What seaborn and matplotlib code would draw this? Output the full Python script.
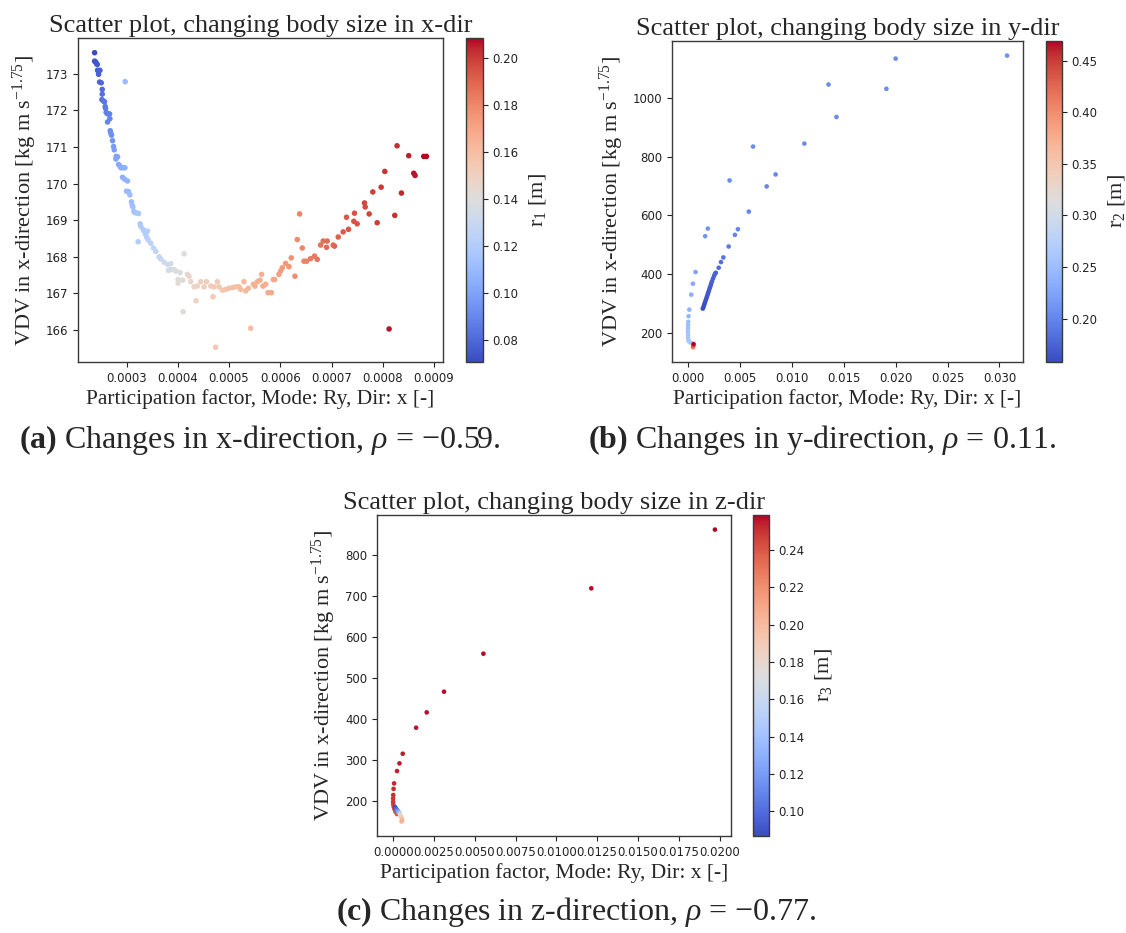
import numpy as np
import matplotlib
matplotlib.use("Agg")
import matplotlib.pyplot as plt
import seaborn as sns
from matplotlib.ticker import MultipleLocator
from matplotlib.colors import Normalize
from matplotlib.cm import ScalarMappable

# ---------------- data ----------------
# (a) body size changed in x-direction
pf_a = np.array([
    2.377, 2.377, 2.396, 2.416, 2.429, 2.435, 2.455, 2.481, 2.455, 2.474,
    2.506, 2.526, 2.526, 2.519, 2.552, 2.571, 2.584, 2.591, 2.604, 2.630,
    2.669, 2.675, 2.630, 2.682, 2.695, 2.708, 2.727, 2.747, 2.760, 2.799,
    2.825, 2.792, 2.844, 2.870, 2.890, 2.929, 2.968, 2.922, 2.961, 3.019,
    3.000, 3.039, 3.065, 3.097, 3.110, 3.123, 3.143, 3.162, 3.188, 3.234,
    2.974, 3.266, 3.279, 3.325, 3.344, 3.409, 3.370, 3.396, 3.422, 3.227,
    3.474, 3.526, 3.571, 3.636, 3.669, 3.734, 3.799, 3.864, 3.818, 3.864,
    3.929, 3.961, 4.045, 4.006, 4.006, 4.097, 4.123, 4.188, 4.221, 4.104,
    4.357, 4.253, 4.318, 4.383, 4.448, 4.513, 4.558, 4.643, 4.708, 4.688,
    4.773, 4.805, 4.740, 4.870, 4.935, 5.000, 5.065, 5.130, 5.195, 5.227,
    5.292, 5.325, 5.377, 5.422, 5.474, 5.506, 5.552, 5.604, 5.636, 5.662,
    5.714, 5.760, 5.825, 5.864, 5.890, 5.974, 6.006, 6.039, 6.104, 6.169,
    6.214, 6.286, 6.331, 6.377, 6.429, 6.461, 6.513, 6.591, 6.669, 6.721,
    6.786, 6.838, 6.916, 6.903, 7.032, 7.058, 7.130, 7.227, 7.292, 7.331,
    7.435, 7.448, 7.500, 7.643, 7.656, 7.734, 7.805, 7.890, 7.968, 8.039,
    8.123, 8.234, 8.279, 8.364, 8.506, 8.604, 8.630, 8.799, 8.851,
]) * 1e-4
vdv_a = np.array([
    173.57, 173.34, 173.32, 173.27, 173.25, 173.09, 173.06, 173.09, 172.98, 172.77,
    172.75, 172.57, 172.44, 172.29, 172.25, 172.23, 172.10, 172.05, 171.94, 171.90,
    171.90, 171.77, 171.68, 171.44, 171.37, 171.32, 171.17, 171.01, 170.92, 170.74,
    170.73, 170.67, 170.52, 170.48, 170.43, 170.43, 170.43, 170.17, 170.12, 170.07,
    169.79, 169.78, 169.69, 169.50, 169.41, 169.36, 169.24, 169.21, 169.20, 169.18,
    172.78, 168.90, 168.83, 168.74, 168.70, 168.70, 168.61, 168.53, 168.46, 168.41,
    168.37, 168.24, 168.15, 168.00, 167.94, 167.85, 167.79, 167.81, 167.63, 167.65,
    167.65, 167.61, 167.57, 167.38, 167.28, 167.36, 168.08, 167.52, 167.47, 166.50,
    166.80, 167.32, 167.18, 167.20, 167.32, 167.18, 167.32, 167.20, 167.18, 166.91,
    167.32, 167.18, 165.53, 167.09, 167.11, 167.14, 167.16, 167.18, 167.18, 167.11,
    167.32, 167.07, 167.14, 166.05, 167.25, 167.20, 167.32, 167.36, 167.52, 167.20,
    167.25, 167.02, 167.02, 167.38, 167.38, 167.52, 167.61, 167.70, 167.82, 167.73,
    167.97, 167.47, 168.47, 169.17, 168.24, 167.88, 167.88, 167.95, 168.02, 167.93,
    168.32, 168.43, 168.43, 168.26, 168.32, 168.29, 168.54, 168.68, 169.08, 168.75,
    168.97, 169.19, 168.90, 169.47, 169.36, 169.17, 169.77, 168.93, 169.90, 170.33,
    166.03, 169.13, 171.03, 169.74, 170.76, 170.28, 170.22, 170.74, 170.74,
])
r1_a = np.array([
    0.0705, 0.073, 0.074, 0.074, 0.075, 0.076, 0.076, 0.077, 0.077, 0.079,
    0.079, 0.081, 0.082, 0.083, 0.083, 0.084, 0.085, 0.086, 0.087, 0.087,
    0.088, 0.089, 0.089, 0.092, 0.093, 0.093, 0.095, 0.097, 0.098, 0.100,
    0.100, 0.101, 0.103, 0.103, 0.104, 0.104, 0.105, 0.106, 0.107, 0.107,
    0.109, 0.110, 0.111, 0.112, 0.113, 0.113, 0.114, 0.115, 0.115, 0.116,
    0.110, 0.118, 0.118, 0.119, 0.120, 0.121, 0.121, 0.122, 0.123, 0.120,
    0.124, 0.125, 0.126, 0.128, 0.129, 0.131, 0.133, 0.134, 0.134, 0.135,
    0.137, 0.138, 0.140, 0.141, 0.142, 0.143, 0.140, 0.145, 0.146, 0.142,
    0.148, 0.147, 0.148, 0.149, 0.150, 0.151, 0.151, 0.152, 0.153, 0.153,
    0.154, 0.155, 0.155, 0.156, 0.157, 0.158, 0.159, 0.159, 0.160, 0.161,
    0.162, 0.162, 0.163, 0.160, 0.164, 0.165, 0.165, 0.166, 0.166, 0.167,
    0.167, 0.168, 0.169, 0.169, 0.170, 0.172, 0.173, 0.174, 0.175, 0.176,
    0.177, 0.178, 0.179, 0.181, 0.180, 0.181, 0.182, 0.183, 0.184, 0.185,
    0.186, 0.187, 0.188, 0.188, 0.189, 0.190, 0.191, 0.192, 0.193, 0.193,
    0.194, 0.195, 0.195, 0.197, 0.197, 0.198, 0.199, 0.199, 0.200, 0.201,
    0.206, 0.202, 0.203, 0.204, 0.205, 0.206, 0.206, 0.208, 0.2085,
])

# (b) body size changed in y-direction
pf_b = np.array([
    # dense chain
    0.00143, 0.00150, 0.00156, 0.00162, 0.00169, 0.00175, 0.00182, 0.00188,
    0.00194, 0.00201, 0.00207, 0.00213, 0.00220, 0.00226, 0.00232, 0.00242,
    0.00252, 0.00261, 0.00268, 0.00296, 0.00318, 0.00341, 0.00392,
    # near-zero branch
    0.00073, 0.00048, 0.00032, 0.00013, 0.00006, 0.00003, 0.00001, 0.00000,
    0.00000, 0.00001, 0.00002, 0.00006, 0.00016, 0.00029,
    # spread-out points
    0.00166, 0.00191, 0.00401, 0.00452, 0.00481, 0.00586, 0.00627, 0.00758,
    0.00844, 0.01121, 0.01354, 0.01430, 0.01911, 0.02000, 0.03073,
    # largest sizes
    0.00048, 0.00052, 0.00054,
])
vdv_b = np.array([
    282.5, 288.0, 295.0, 301.7, 308.5, 315.0, 322.0, 328.8,
    335.6, 342.4, 349.2, 356.0, 362.7, 369.5, 376.3, 385.3,
    394.4, 401.1, 404.5, 421.5, 440.7, 456.5, 493.8,
    406.8, 367.2, 330.0, 279.0, 256.5, 237.3, 226.0, 214.7,
    203.4, 192.0, 180.8, 172.9, 168.4, 166.1,
    528.8, 554.8, 718.6, 533.3, 552.5, 612.4, 833.9, 698.3,
    739.0, 844.1, 1045.2, 934.5, 1030.5, 1133.3, 1143.5,
    150.3, 155.5, 161.6,
])
r2_b = np.array([
    0.158, 0.160, 0.161, 0.162, 0.163, 0.164, 0.165, 0.166,
    0.167, 0.168, 0.169, 0.170, 0.171, 0.172, 0.173, 0.174,
    0.175, 0.176, 0.177, 0.180, 0.183, 0.186, 0.192,
    0.225, 0.230, 0.235, 0.240, 0.245, 0.248, 0.250, 0.252,
    0.254, 0.256, 0.258, 0.260, 0.262, 0.265,
    0.212, 0.212, 0.205, 0.200, 0.200, 0.200, 0.205, 0.200,
    0.200, 0.205, 0.205, 0.205, 0.205, 0.205, 0.210,
    0.400, 0.430, 0.469,
])

# (c) body size changed in z-direction
pf_c = np.array([
    0.01971, 0.01214, 0.00553, 0.00312, 0.00206, 0.00141, 0.00059, 0.00039,
    0.00024, 0.00006, 0.00003, 0.00001, 0.00000, 0.00000, 0.00001, 0.00004,
    0.00008, 0.00014, 0.00024,
    0.00012, 0.00016, 0.00020, 0.00024, 0.00028, 0.00031, 0.00035, 0.00039,
    0.00043, 0.00047, 0.00051, 0.00054, 0.00055, 0.00052,
])
vdv_c = np.array([
    862.0, 718.6, 559.0, 466.2, 415.7, 378.3, 314.8, 291.2,
    272.4, 242.3, 229.0, 214.0, 205.7, 197.5, 191.0, 185.3,
    179.6, 173.1, 167.4,
    184.5, 182.0, 179.5, 177.2, 175.0, 173.1, 171.5, 170.2,
    166.5, 163.0, 159.3, 155.5, 152.0, 149.5,
])
r3_c = np.array([
    0.2588, 0.258, 0.258, 0.257, 0.257, 0.256, 0.255, 0.255,
    0.254, 0.253, 0.252, 0.251, 0.250, 0.249, 0.248, 0.247,
    0.245, 0.243, 0.240,
    0.0867, 0.092, 0.098, 0.105, 0.113, 0.120, 0.130, 0.140,
    0.175, 0.185, 0.190, 0.195, 0.200, 0.205,
])

SERIF = "Liberation Serif"

sns.set_style("ticks")
plt.rcParams.update({
    "font.family": ["DejaVu Sans"],
    "mathtext.fontset": "custom",
    "mathtext.rm": SERIF,
    "mathtext.it": SERIF + ":italic",
    "mathtext.bf": SERIF + ":bold",
    "axes.edgecolor": "#3a3a3a",
    "axes.linewidth": 1.0,
    "xtick.color": "#222222",
    "ytick.color": "#222222",
    "xtick.labelsize": 8.5,
    "ytick.labelsize": 8.5,
    "xtick.major.size": 3.5,
    "ytick.major.size": 3.5,
})

fig = plt.figure(figsize=(11.26, 9.33), dpi=100)


def panel(ax_rect, cax_rect, x, y, h, size, title, clabel, xstep, ystep, cstep):
    ax = fig.add_axes(ax_rect)
    cax = fig.add_axes(cax_rect)
    norm = Normalize(h.min(), h.max())
    sns.scatterplot(x=x, y=y, hue=h, palette="coolwarm", hue_norm=norm,
                    s=size, linewidth=0, legend=False, ax=ax)
    ax.set_title(title, fontfamily=SERIF, fontsize=19, pad=4)
    ax.set_xlabel("Participation factor, Mode: Ry, Dir: x [-]",
                  fontfamily=SERIF, fontsize=15.5, labelpad=3)
    ax.set_ylabel(r"VDV in x-direction [kg m s$^{-1.75}$]",
                  fontfamily=SERIF, fontsize=16, labelpad=5)
    ax.xaxis.set_major_locator(MultipleLocator(xstep))
    ax.yaxis.set_major_locator(MultipleLocator(ystep))
    sm = ScalarMappable(norm=norm, cmap="coolwarm")
    cb = fig.colorbar(sm, cax=cax)
    cb.locator = MultipleLocator(cstep)
    cb.update_ticks()
    cb.outline.set_edgecolor("#3a3a3a")
    cb.ax.tick_params(labelsize=8.5)
    cb.set_label(clabel, fontfamily=SERIF, fontsize=16, labelpad=6)
    return ax


W, H = 1126.0, 933.0


def rect(left, top, right, bottom):
    return [left / W, 1 - bottom / H, (right - left) / W, (bottom - top) / H]


panel(rect(78, 38, 443, 362), rect(466, 38, 483, 362),
      pf_a, vdv_a, r1_a, 16,
      "Scatter plot, changing body size in x-dir", r"r$_1$ [m]",
      0.0001, 1, 0.02)
panel(rect(672, 41, 1023, 362), rect(1046, 41, 1062, 362),
      pf_b, vdv_b, r2_b, 11,
      "Scatter plot, changing body size in y-dir", r"r$_2$ [m]",
      0.005, 200, 0.05)
panel(rect(377, 515, 731, 836), rect(753, 515, 769, 836),
      pf_c, vdv_c, r3_c, 11,
      "Scatter plot, changing body size in z-dir", r"r$_3$ [m]",
      0.0025, 100, 0.02)

caption_kw = dict(ha="center", va="center", fontfamily=SERIF, fontsize=23)
fig.text(260 / W, 1 - 440 / H,
         "$\\mathbf{(a)}$ Changes in x-direction, $\\rho$ = \u22120.59.", **caption_kw)
fig.text(822 / W, 1 - 440 / H,
         "$\\mathbf{(b)}$ Changes in y-direction, $\\rho$ = 0.11.", **caption_kw)
fig.text(576 / W, 1 - 912 / H,
         "$\\mathbf{(c)}$ Changes in z-direction, $\\rho$ = \u22120.77.", **caption_kw)

fig.savefig("out.png", dpi=100, facecolor="white")
